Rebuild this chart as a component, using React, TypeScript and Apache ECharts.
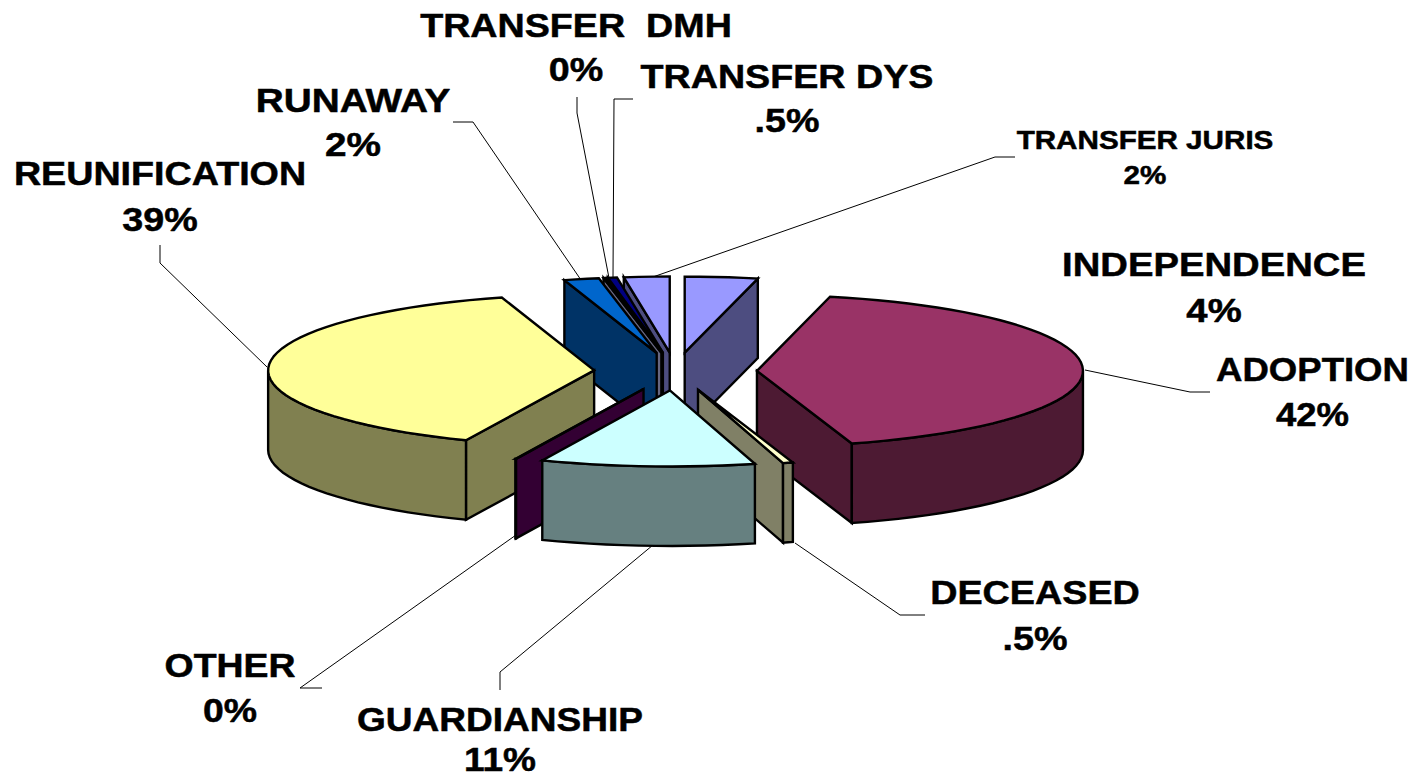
import React, { useEffect, useRef } from "react";
import * as echarts from "echarts";

// ---- data (percent of the whole, clockwise from 12 o'clock) ----
const categories = ["INDEPENDENCE", "ADOPTION", "DECEASED", "GUARDIANSHIP", "OTHER", "REUNIFICATION", "RUNAWAY", "TRANSFER  DMH", "TRANSFER DYS", "TRANSFER JURIS"];
const values = [3.6, 41.7, 0.5, 10.6, 0.03, 39.0, 1.73, 0.14, 0.45, 2.25];
const percentLabels = ["4%", "42%", ".5%", "11%", "0%", "39%", "2%", "0%", ".5%", "2%"];
const topColors = ["#9999FF", "#993366", "#FFFFCC", "#CCFFFF", "#660066", "#FFFF99", "#0066CC", "#666699", "#000080", "#9999FF"];
const sideColors = ["#4D4D80", "#4D1A33", "#808066", "#668080", "#330033", "#808050", "#003366", "#666680", "#666680", "#4D4D80"];

// ---- layout ----
const CX = 675.5, CY = 371.5, RX = 326, RY = 76, EXPLODE = 0.25, DEPTH = 79.5;
const FONT = "'Liberation Sans', Arial, sans-serif";
const labelBoxes = [
  { cx: 1214, y1: 264, y2: 310, size: 34, sx: 1.125 },
  { cx: 1312.5, y1: 369, y2: 414, size: 34, sx: 1.075 },
  { cx: 1035, y1: 592, y2: 638, size: 34, sx: 1.11 },
  { cx: 500, y1: 720, y2: 760, size: 34, sx: 1.09 },
  { cx: 230, y1: 666, y2: 711, size: 34, sx: 1.1 },
  { cx: 160, y1: 174, y2: 220, size: 34, sx: 1.108 },
  { cx: 353, y1: 100, y2: 144, size: 34, sx: 1.14 },
  { cx: 576, y1: 26, y2: 70, size: 34, sx: 1.108 },
  { cx: 787, y1: 77, y2: 121, size: 34, sx: 1.108 },
  { cx: 1145, y1: 140, y2: 175, size: 26, sx: 1.14 },
];
const leaderLines: (number[][] | null)[] = [
  null,
  [[1210, 392], [1190, 392], [1085, 370]],
  [[925, 615], [900, 615], [795, 543]],
  [[500, 690], [500, 672], [653, 545]],
  [[322, 688], [300, 688], [516, 535]],
  [[160, 245], [160, 263], [267, 367]],
  [[453, 122], [473, 122], [581, 280]],
  [[577, 97], [577, 113], [609, 278]],
  [[633, 99], [614, 99], [613, 278]],
  [[1015, 157], [995, 157], [650, 278]],
];

const total = values.reduce((a, b) => a + b, 0);
const slices = (() => {
  let acc = 0;
  return values.map((v, i) => {
    const a0 = (acc / total) * 360;
    acc += v;
    const a1 = (acc / total) * 360;
    return { i, a0, a1, mid: (a0 + a1) / 2 };
  });
})();
// painter's order: slices at the back of the tilted pie are drawn first
const paintOrder = [...slices].sort((p, q) => Math.cos((q.mid * Math.PI) / 180) - Math.cos((p.mid * Math.PI) / 180));

const rad = (d: number) => (d * Math.PI) / 180;

function renderSlice(_: any, api: any) {
  const a0 = api.value(0), a1 = api.value(1), idx = api.value(2);
  const mid = (a0 + a1) / 2;
  const ox = CX + RX * EXPLODE * Math.sin(rad(mid));
  const oy = CY - RY * EXPLODE * Math.cos(rad(mid));
  const rim = (a: number, dy = 0) => [ox + RX * Math.sin(rad(a)), oy - RY * Math.cos(rad(a)) + dy];
  const arc = (from: number, to: number, dy = 0) => {
    const n = Math.max(2, Math.ceil(Math.abs(to - from) / 3));
    const pts: number[][] = [];
    for (let k = 0; k <= n; k++) pts.push(rim(from + ((to - from) * k) / n, dy));
    return pts;
  };
  const lineStyle = { stroke: "#000", lineWidth: 2.4, lineJoin: "miter" };
  const side = sideColors[idx], top = topColors[idx];
  const poly = (points: number[][], fill: string) => ({
    type: "polygon",
    shape: { points },
    style: { fill, ...lineStyle },
  });
  const children: any[] = [];
  const apex = [ox, oy], apexLow = [ox, oy + DEPTH];
  // cut faces turned toward the viewer
  if (Math.sin(rad(a0)) < 0) children.push(poly([apex, rim(a0), rim(a0, DEPTH), apexLow], side));
  if (Math.sin(rad(a1)) > 0) children.push(poly([apex, rim(a1), rim(a1, DEPTH), apexLow], side));
  // outer wall: the part of the rim on the near half
  const from = Math.max(a0, 90), to = Math.min(a1, 270);
  if (to > from) children.push(poly([...arc(from, to), ...arc(to, from, DEPTH)], side));
  // top face
  children.push(poly([apex, ...arc(a0, a1)], top));
  return { type: "group", children };
}

export default function App() {
  const ref = useRef<HTMLDivElement>(null);
  useEffect(() => {
    const chart = echarts.init(ref.current!, null, { renderer: "svg" });
    const graphics: any[] = [];
    categories.forEach((name, i) => {
      const b = labelBoxes[i];
      [[name, b.y1], [percentLabels[i], b.y2]].forEach(([t, y]) => {
        graphics.push({
          type: "text",
          x: b.cx,
          y: y as number,
          scaleX: b.sx,
          style: { text: t as string, fill: "#000", stroke: "#000", lineWidth: 0.5, font: `bold ${b.size}px ${FONT}`, textAlign: "center", textVerticalAlign: "middle" },
        });
      });
      const line = leaderLines[i];
      if (line) graphics.push({ type: "polyline", shape: { points: line }, style: { stroke: "#000", lineWidth: 1, fill: "none" } });
    });
    chart.setOption({
      animation: false,
      backgroundColor: "#fff",
      graphic: graphics,
      series: [
        {
          type: "custom",
          coordinateSystem: "none",
          silent: true,
          renderItem: renderSlice,
          data: paintOrder.map((s) => [s.a0, s.a1, s.i]),
        },
      ],
    });
    return () => chart.dispose();
  }, []);
  return <div ref={ref} style={{ position: "fixed", left: 0, top: 0, width: 1416, height: 778 }} />;
}
